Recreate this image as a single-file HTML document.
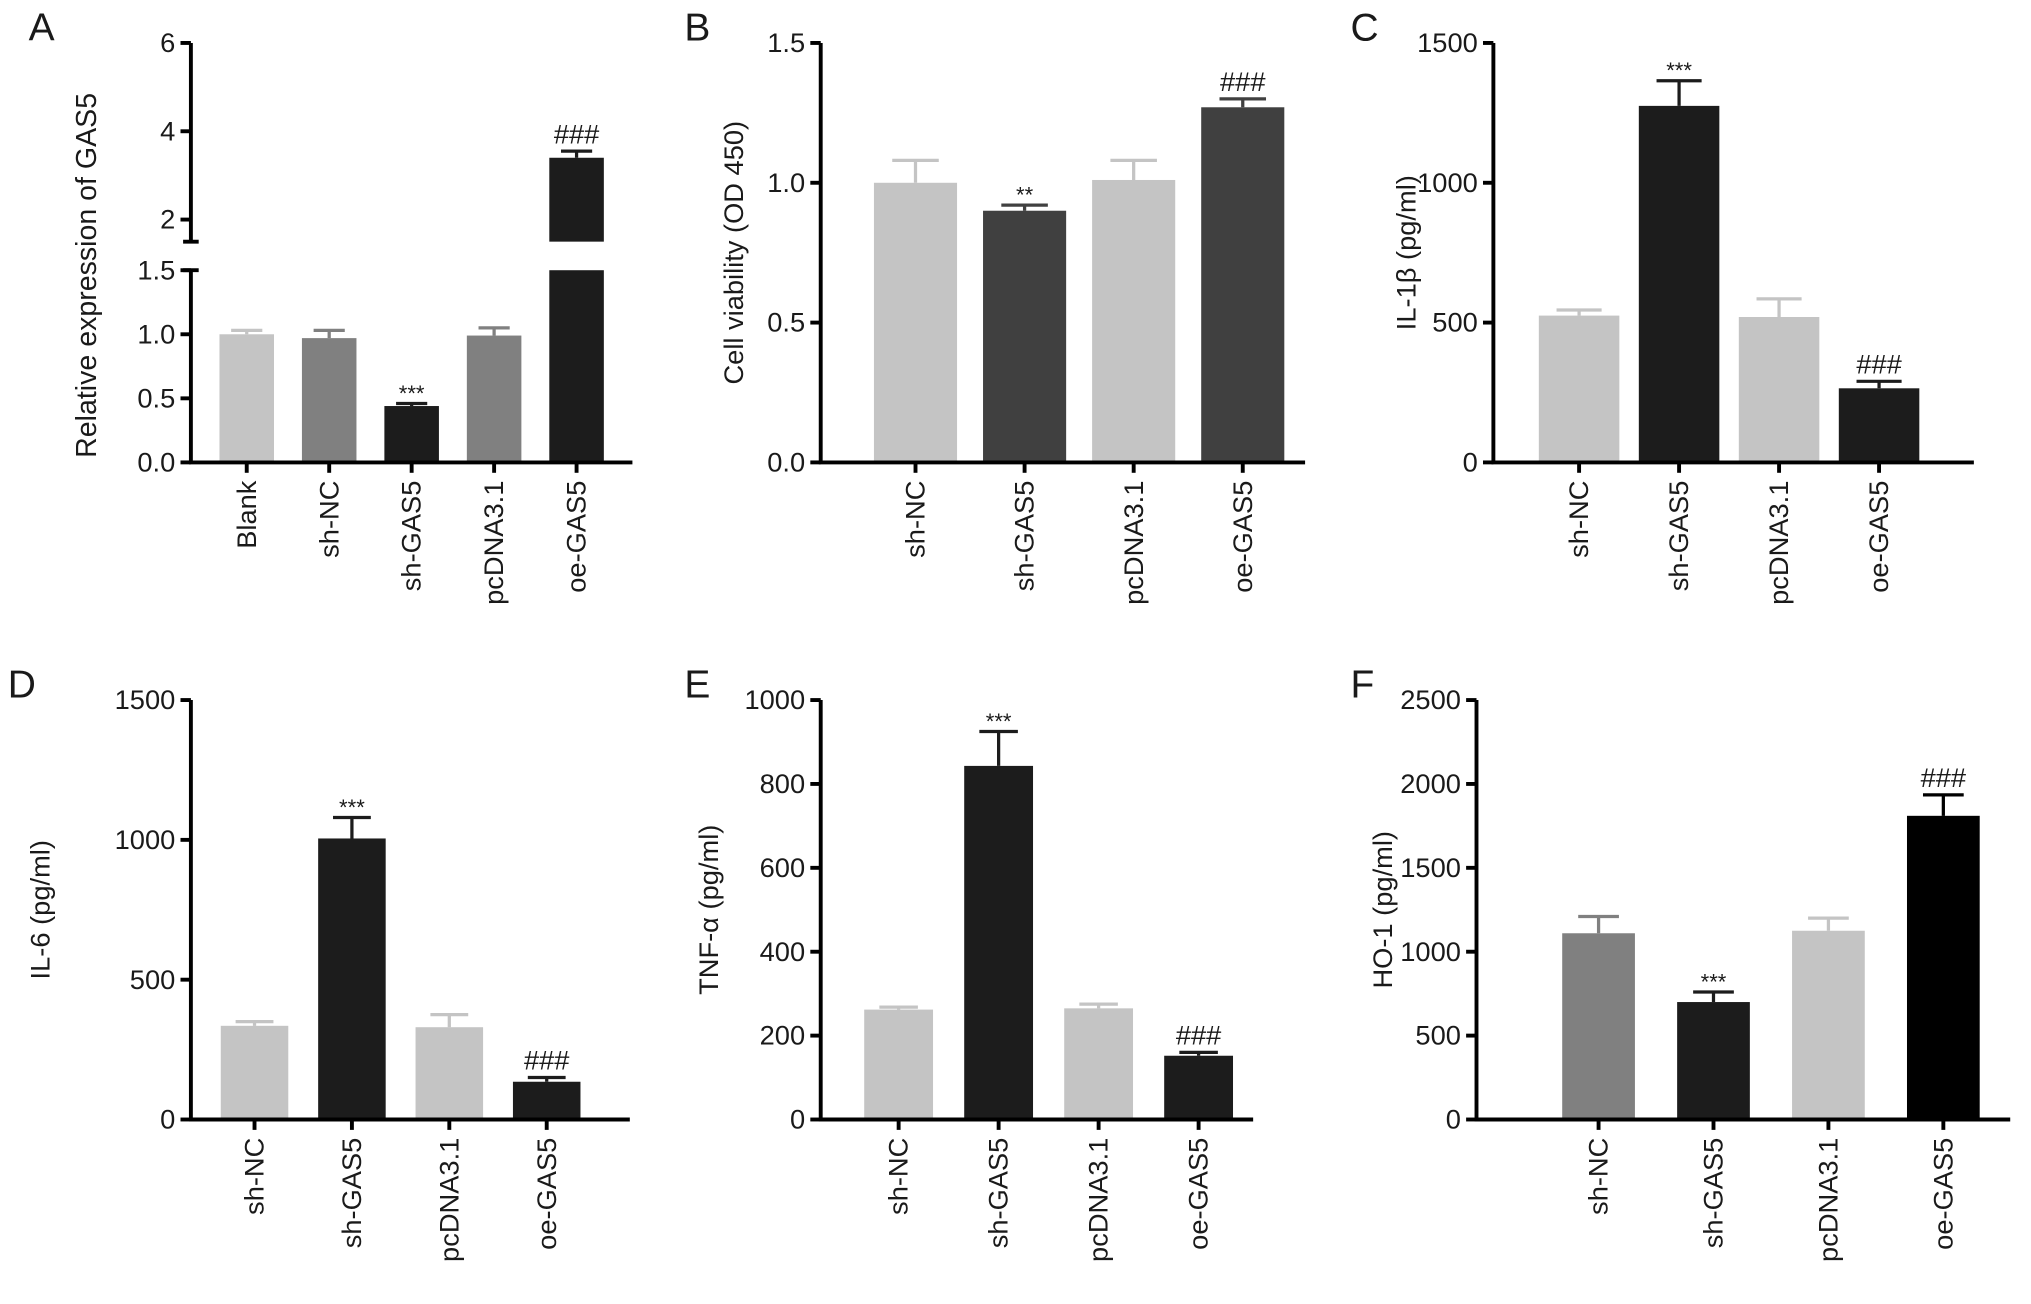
<!DOCTYPE html>
<html><head><meta charset="utf-8"><style>
html,body{margin:0;padding:0;background:#fff;}
svg{display:block;}
text{font-family:"Liberation Sans",sans-serif;fill:#1a1a1a;}
</style></head><body>
<svg id="fig" width="2031" height="1304" viewBox="0 0 1564 1004" xmlns="http://www.w3.org/2000/svg"></svg>
<script>
const catsA = ["Blank","sh-NC","sh-GAS5","pcDNA3.1","oe-GAS5"];
const valsA = [1.0,0.97,0.44,0.99,3.4];
const errsA = [1.03,1.03,0.46,1.05,3.55];
const cats4 = ["sh-NC","sh-GAS5","pcDNA3.1","oe-GAS5"];
const valsB = [1.0,0.9,1.01,1.27];
const errsB = [1.08,0.92,1.08,1.30];
const valsC = [525,1275,520,265];
const errsC = [545,1365,585,290];
const valsD = [335,1005,330,135];
const errsD = [350,1080,375,150];
const valsE = [262,843,265,152];
const errsE = [268,925,275,160];
const valsF = [1110,700,1125,1810];
const errsF = [1210,760,1200,1935];
const ticksB = [0,0.5,1.0,1.5];
const ticksC = [0,500,1000,1500];
const ticksD = [0,500,1000,1500];
const ticksE = [0,200,400,600,800,1000];
const ticksF = [0,500,1000,1500,2000,2500];

const NS="http://www.w3.org/2000/svg";
const svg=document.getElementById('fig');
function mk(tag,attrs,parent,txt){const e=document.createElementNS(NS,tag);for(const k in attrs)e.setAttribute(k,attrs[k]);if(txt!==undefined)e.textContent=txt;(parent||svg).appendChild(e);return e;}
const L='#c4c4c4',M='#808080',D='#1c1c1c',DG='#404040';
const TF=21, CF=21, YF=21;

function panel(o){
  const g=mk('g',{});
  
  
  const y=v=>o.yb-(v-o.min)/(o.max-o.min)*(o.yb-o.yt);
  const t=mk('text',{x:o.lx,y:o.ly,'font-size':30},g,o.id);
  
  
  o.vals.forEach((v,i)=>{
    const cx=o.c0+i*o.step;
    const r=mk('rect',{x:cx-o.w/2,y:y(v),width:o.w,height:o.yb-y(v),fill:o.cols[i]},g);
    
    
    const ey=y(o.errs[i]);
    const eb=mk('path',{d:`M${cx} ${y(v)}V${ey}M${cx-o.w*0.28} ${ey}H${cx+o.w*0.28}`,stroke:o.cols[i],'stroke-width':2.5,fill:'none'},g);
    
    
    if(o.ann[i]){
      const star=o.ann[i]==='***'||o.ann[i]==='**';
      const a=mk('text',{x:cx,y:ey-(star?2:6),'font-size':star?17:21,'text-anchor':'middle'},g,o.ann[i]);
      
      
    }
    const lb=mk('text',{transform:`translate(${cx+7},${o.yb+14}) rotate(-90)`,'font-size':CF,'text-anchor':'end'},g,o.cats[i]);
    
    
    mk('line',{x1:cx,x2:cx,y1:o.yb,y2:o.yb+8,stroke:'#000','stroke-width':3},g);
  });
  const ax=mk('path',{d:`M${o.x0} ${o.yt}V${o.yb}H${o.x1}`,stroke:'#000','stroke-width':3,fill:'none'},g);
  
  
  o.ticks.forEach(tv=>{
    mk('line',{x1:o.x0-8,x2:o.x0,y1:y(tv),y2:y(tv),stroke:'#000','stroke-width':3},g);
    const tl=mk('text',{x:o.x0-12,y:y(tv)+7,'font-size':TF,'text-anchor':'end'},g,o.tickFmt(tv));
    
    
  });
  const yl=mk('text',{transform:`translate(${o.yx},${(o.yt+o.yb)/2}) rotate(-90)`,'font-size':YF,'text-anchor':'middle'},g,o.ylab);
  
  
}
const f1=v=>v.toFixed(1), f0=v=>String(v);

(function(){
  const g=mk('g',{});
  
  
  const x0=147,x1=487,yb=356,yt=208,ybU=186;
  const yL=v=>yb-v/1.5*(yb-yt);
  const yU=v=>169-(v-2)*34;
  const cols=[L,M,D,M,D], ann=['','','***','','###'];
  const c0=190,step=63.5,w=42;
  mk('text',{x:22,y:31,'font-size':30},g,'A');
  valsA.forEach((v,i)=>{
    const cx=c0+i*step;
    const r=mk('rect',{x:cx-w/2,y:yL(Math.min(v,1.5)),width:w,height:yb-yL(Math.min(v,1.5)),fill:cols[i]},g);
    
    
    let ey;
    if(v>1.5){
      const r2=mk('rect',{x:cx-w/2,y:yU(v),width:w,height:ybU-yU(v),fill:cols[i]},g);
      
      
      ey=yU(errsA[i]);
      mk('path',{d:`M${cx} ${yU(v)}V${ey}M${cx-12} ${ey}H${cx+12}`,stroke:cols[i],'stroke-width':2.5,fill:'none'},g);
    } else {
      ey=yL(errsA[i]);
      mk('path',{d:`M${cx} ${yL(v)}V${ey}M${cx-12} ${ey}H${cx+12}`,stroke:cols[i],'stroke-width':2.5,fill:'none'},g);
    }
    if(ann[i]){const star=ann[i]==='***';mk('text',{x:cx,y:ey-(star?2:6),'font-size':star?17:21,'text-anchor':'middle'},g,ann[i]);}
    const lb=mk('text',{transform:`translate(${cx+7},${yb+14}) rotate(-90)`,'font-size':CF,'text-anchor':'end'},g,catsA[i]);
    
    
    mk('line',{x1:cx,x2:cx,y1:yb,y2:yb+8,stroke:'#000','stroke-width':3},g);
  });
  mk('path',{d:`M${x0} ${33}V${ybU}M${x0-6} ${ybU}H${x0+6}M${x0} ${yt}V${yb}H${x1}M${x0-6} ${yt}H${x0+6}`,stroke:'#000','stroke-width':3,fill:'none'},g);
  [2,4,6].forEach(tv=>{mk('line',{x1:x0-8,x2:x0,y1:yU(tv),y2:yU(tv),stroke:'#000','stroke-width':3},g);
    mk('text',{x:x0-12,y:yU(tv)+7,'font-size':TF,'text-anchor':'end'},g,String(tv));});
  [0,0.5,1.0,1.5].forEach(tv=>{mk('line',{x1:x0-8,x2:x0,y1:yL(tv),y2:yL(tv),stroke:'#000','stroke-width':3},g);
    mk('text',{x:x0-12,y:yL(tv)+7,'font-size':TF,'text-anchor':'end'},g,tv.toFixed(1));});
  const yl=mk('text',{transform:`translate(74,212) rotate(-90)`,'font-size':22,'text-anchor':'middle'},g,'Relative expression of GAS5');
  
  
})();

panel({id:'B',lx:527,ly:31,x0:632,x1:1005,yt:33,yb:356,min:0,max:1.5,ticks:ticksB,tickFmt:f1,
  vals:valsB,errs:errsB,cats:cats4,cols:[L,DG,L,DG],ann:['','**','','###'],c0:705,step:84,w:64,yx:572,ylab:'Cell viability (OD 450)'});
panel({id:'C',lx:1040,ly:31,x0:1150,x1:1520,yt:33,yb:356,min:0,max:1500,ticks:ticksC,tickFmt:f0,
  vals:valsC,errs:errsC,cats:cats4,cols:[L,D,L,D],ann:['','***','','###'],c0:1216,step:77,w:62,yx:1090,ylab:'IL-1\u03B2 (pg/ml)'});
panel({id:'D',lx:6,ly:537,x0:147,x1:485,yt:539,yb:862,min:0,max:1500,ticks:ticksD,tickFmt:f0,
  vals:valsD,errs:errsD,cats:cats4,cols:[L,D,L,D],ann:['','***','','###'],c0:196,step:75,w:52,yx:38,ylab:'IL-6 (pg/ml)'});
panel({id:'E',lx:527,ly:537,x0:632,x1:965,yt:539,yb:862,min:0,max:1000,ticks:ticksE,tickFmt:f0,
  vals:valsE,errs:errsE,cats:cats4,cols:[L,D,L,D],ann:['','***','','###'],c0:692,step:77,w:53,yx:553,ylab:'TNF-\u03B1 (pg/ml)'});
panel({id:'F',lx:1040,ly:537,x0:1137,x1:1548,yt:539,yb:862,min:0,max:2500,ticks:ticksF,tickFmt:f0,
  vals:valsF,errs:errsF,cats:cats4,cols:[M,D,L,'#000'],ann:['','***','','###'],c0:1231,step:88.5,w:56,yx:1072,ylab:'HO-1 (pg/ml)'});
</script>
</body></html>
